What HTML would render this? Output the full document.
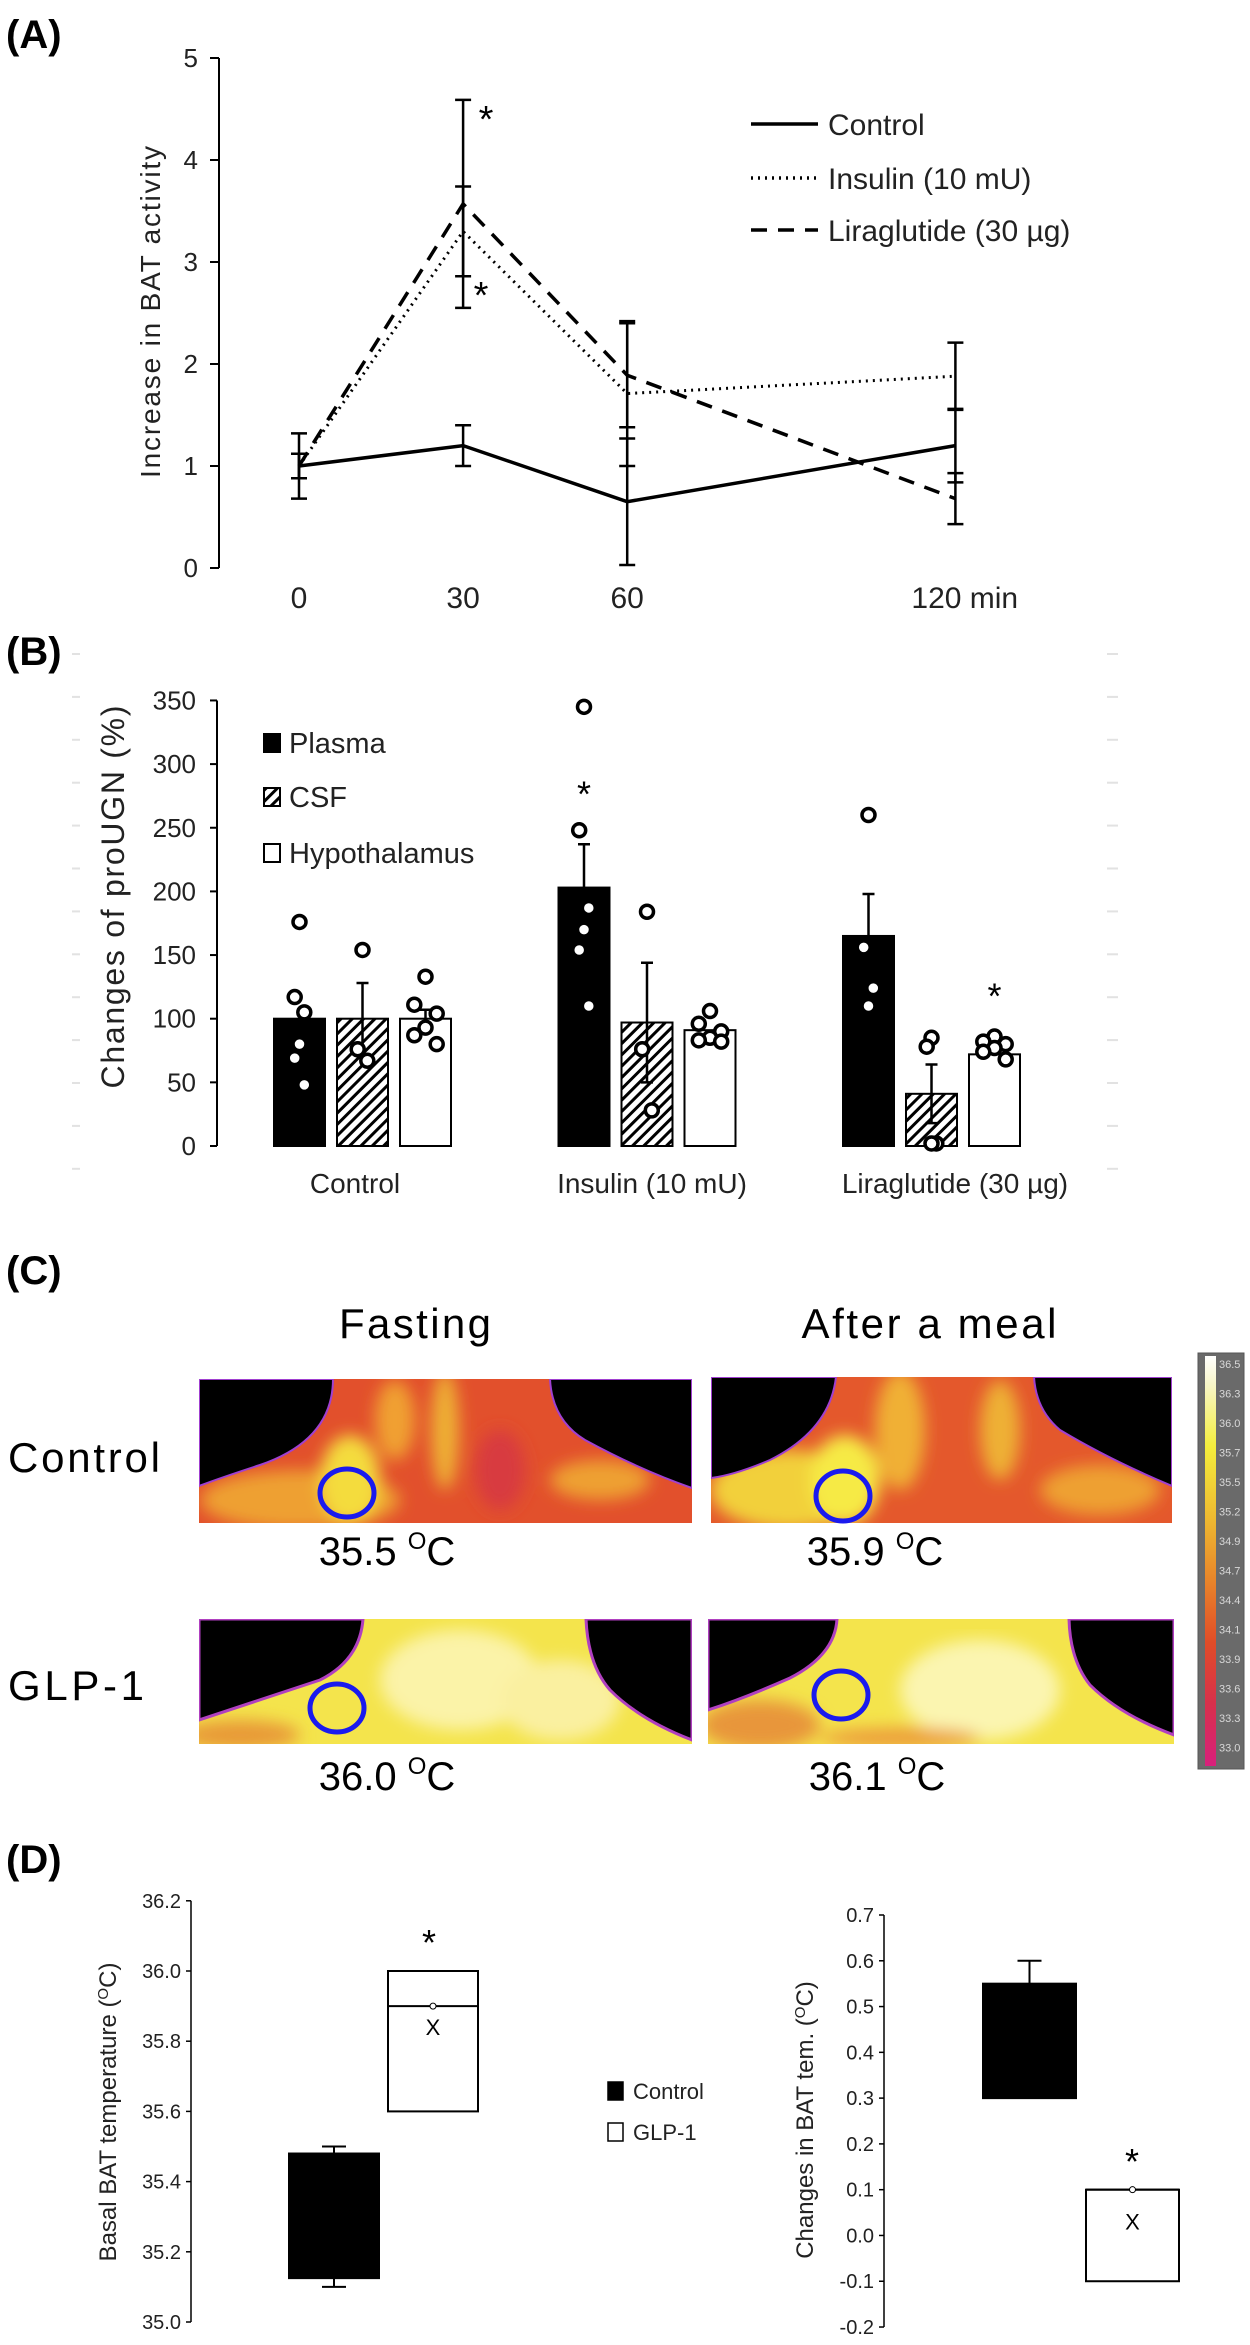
<!DOCTYPE html>
<html><head><meta charset="utf-8"><style>
html,body{margin:0;padding:0;background:#fff;}
svg{display:block;font-family:"Liberation Sans",Arial,sans-serif;}
</style></head><body>
<svg id="fig" width="1250" height="2345" viewBox="0 0 1250 2345" xmlns="http://www.w3.org/2000/svg">
<defs>
 <linearGradient id="cbar" x1="0" y1="0" x2="0" y2="1">
  <stop offset="0" stop-color="#ffffff"/><stop offset="0.07" stop-color="#f8f6c8"/>
  <stop offset="0.22" stop-color="#f4ee3c"/><stop offset="0.4" stop-color="#eeb830"/>
  <stop offset="0.55" stop-color="#e8842a"/><stop offset="0.7" stop-color="#e04c28"/>
  <stop offset="0.85" stop-color="#d8304c"/><stop offset="1" stop-color="#d8207c"/>
 </linearGradient>
 <filter id="blur8"><feGaussianBlur stdDeviation="8"/></filter>
 <clipPath id="c1"><rect x="199" y="1379" width="493" height="144"/></clipPath>
 <clipPath id="c2"><rect x="711" y="1377" width="461" height="146"/></clipPath>
 <clipPath id="c3"><rect x="199" y="1619" width="493" height="125"/></clipPath>
 <clipPath id="c4"><rect x="708" y="1619" width="466" height="125"/></clipPath>
 <pattern id="hatch" patternUnits="userSpaceOnUse" width="8" height="8" patternTransform="rotate(45)">
  <rect width="8" height="8" fill="#fff"/><rect width="3" height="8" fill="#000"/>
 </pattern>
</defs>

<text x="6" y="48" font-size="40" font-weight="bold">(A)</text>
<text x="6" y="665" font-size="40" font-weight="bold">(B)</text>
<text x="6" y="1284" font-size="40" font-weight="bold">(C)</text>
<text x="6" y="1873" font-size="40" font-weight="bold">(D)</text>

<g id="panelA"></g>
<g id="panelB"></g>

<g>
 <text x="415" y="1338" font-size="42" text-anchor="middle" textLength="152">Fasting</text>
 <text x="929" y="1338" font-size="42" text-anchor="middle" textLength="255">After a meal</text>
 <text x="8" y="1472" font-size="42" textLength="152">Control</text>
 <text x="8" y="1700" font-size="42" textLength="136">GLP-1</text>

 <g clip-path="url(#c1)">
  <rect x="199" y="1379" width="493" height="144" fill="#e2502c"/>
  <g filter="url(#blur8)">
   <ellipse cx="300" cy="1500" rx="100" ry="30" fill="#eea030"/>
   <ellipse cx="350" cy="1480" rx="30" ry="45" fill="#f4dc3c"/>
   <ellipse cx="445" cy="1430" rx="14" ry="60" fill="#eeb034"/>
   <ellipse cx="395" cy="1420" rx="20" ry="40" fill="#f0a030"/>
   <ellipse cx="600" cy="1480" rx="50" ry="20" fill="#eea030"/>
   <ellipse cx="500" cy="1470" rx="25" ry="40" fill="#d83a40"/>
  </g>
  <path d="M199 1379 H333 Q333 1440 260 1465 Q220 1478 199 1486 Z" fill="#000" stroke="#a040d0" stroke-width="2"/>
  <path d="M550 1379 H692 V1488 Q640 1470 585 1440 Q552 1420 550 1379 Z" fill="#000" stroke="#a040d0" stroke-width="2"/>
 </g>
 <g clip-path="url(#c2)">
  <rect x="711" y="1377" width="461" height="146" fill="#e4582c"/>
  <g filter="url(#blur8)">
   <ellipse cx="790" cy="1490" rx="80" ry="40" fill="#f2d03a"/>
   <ellipse cx="845" cy="1480" rx="35" ry="45" fill="#f6ea44"/>
   <ellipse cx="900" cy="1430" rx="25" ry="60" fill="#f0b034"/>
   <ellipse cx="1000" cy="1430" rx="20" ry="50" fill="#eeb034"/>
   <ellipse cx="1100" cy="1490" rx="60" ry="25" fill="#eea030"/>
  </g>
  <path d="M711 1377 H836 Q830 1430 770 1460 Q735 1475 711 1478 Z" fill="#000" stroke="#a040d0" stroke-width="2"/>
  <path d="M1034 1377 H1172 V1486 Q1110 1460 1060 1430 Q1036 1410 1034 1377 Z" fill="#000" stroke="#a040d0" stroke-width="2"/>
 </g>
 <g clip-path="url(#c3)">
  <rect x="199" y="1619" width="493" height="125" fill="#f4e44c"/>
  <g filter="url(#blur8)">
   <ellipse cx="460" cy="1680" rx="80" ry="50" fill="#fbf3a8"/>
   <ellipse cx="560" cy="1700" rx="60" ry="40" fill="#faf0a0"/>
   <ellipse cx="240" cy="1735" rx="60" ry="15" fill="#e89a38"/>
  </g>
  <path d="M199 1619 H363 Q360 1660 320 1680 Q260 1700 199 1720 Z" fill="#000" stroke="#b040c0" stroke-width="3"/>
  <path d="M586 1619 H692 V1740 Q640 1720 610 1690 Q588 1665 586 1619 Z" fill="#000" stroke="#b040c0" stroke-width="3"/>
 </g>
 <g clip-path="url(#c4)">
  <rect x="708" y="1619" width="466" height="125" fill="#f4e44c"/>
  <g filter="url(#blur8)">
   <ellipse cx="980" cy="1690" rx="80" ry="50" fill="#fbf5b0"/>
   <ellipse cx="760" cy="1725" rx="60" ry="25" fill="#e8963a"/>
   <ellipse cx="900" cy="1738" rx="80" ry="10" fill="#ec9c3a"/>
  </g>
  <path d="M708 1619 H837 Q835 1655 790 1678 Q745 1698 708 1710 Z" fill="#000" stroke="#b040c0" stroke-width="3"/>
  <path d="M1069 1619 H1174 V1735 Q1120 1715 1090 1685 Q1070 1660 1069 1619 Z" fill="#000" stroke="#b040c0" stroke-width="3"/>
 </g>
 <ellipse cx="347" cy="1493" rx="27" ry="24" fill="none" stroke="#1a1aee" stroke-width="5"/>
 <ellipse cx="843" cy="1496" rx="27" ry="25" fill="none" stroke="#1a1aee" stroke-width="5"/>
 <ellipse cx="337" cy="1708" rx="27" ry="24" fill="none" stroke="#1a1aee" stroke-width="5"/>
 <ellipse cx="841" cy="1695" rx="27" ry="24" fill="none" stroke="#1a1aee" stroke-width="5"/>
 <text x="387" y="1565" font-size="40" text-anchor="middle">35.5 <tspan font-size="24" dy="-16">O</tspan><tspan dy="16">C</tspan></text>
 <text x="875" y="1565" font-size="40" text-anchor="middle">35.9 <tspan font-size="24" dy="-16">O</tspan><tspan dy="16">C</tspan></text>
 <text x="387" y="1790" font-size="40" text-anchor="middle">36.0 <tspan font-size="24" dy="-16">O</tspan><tspan dy="16">C</tspan></text>
 <text x="877" y="1790" font-size="40" text-anchor="middle">36.1 <tspan font-size="24" dy="-16">O</tspan><tspan dy="16">C</tspan></text>
 <g>
  <rect x="1198" y="1353" width="46" height="416" fill="#6a6a6a" stroke="#555" stroke-width="1"/>
  <rect x="1205" y="1356" width="11" height="410" fill="url(#cbar)"/>
  <g id="cbarLabels" font-size="11" fill="#d8d8d8"></g>
 </g>
</g>

<g id="panelD"></g>

<script>
// ---------- Panel A data ----------
const aTimes = [0, 30, 60, 120];
const aControl = [1.0, 1.2, 0.65, 1.2];
const aControlErr = [0.32, 0.2, 0.62, 0.36];
const aInsulin = [1.0, 3.3, 1.71, 1.88];
const aInsulinErr = [0.12, 0.44, 0.71, 0.33];
const aLira = [1.0, 3.57, 1.89, 0.68];
const aLiraErr = [0.12, 1.02, 0.51, 0.25];
const aYTicks = [0, 1, 2, 3, 4, 5];
const aXLabels = ['0', '30', '60', '120 min'];

// ---------- Panel B data ----------
const bGroups = ['Control', 'Insulin (10 mU)', 'Liraglutide (30 \u00b5g)'];
const bPlasma = [100, 203, 165];
const bCSF = [100, 97, 41];
const bHypo = [100, 91, 72];
const bPlasmaErr = [0, 34, 33];
const bCSFErr = [28, 47, 23];
const bHypoErr = [7, 0, 0];
const bPlasmaPts = [[176, 117, 105, 80, 69, 48], [345, 248, 187, 170, 154, 110], [260, 156, 124, 110]];
const bCSFPts = [[154, 76, 67], [184, 76, 28], [85, 78, 2, 2]];
const bHypoPts = [[133, 111, 104, 93, 87, 80], [106, 96, 90, 85, 83, 82], [86, 82, 80, 77, 74, 68]];
const bYTicks = [0, 50, 100, 150, 200, 250, 300, 350];

// ---------- Panel D data ----------
const dGroups = ['Control', 'GLP-1'];
const dBasalQ1 = [35.125, 35.6];
const dBasalQ3 = [35.48, 36.0];
const dBasalMin = [35.1, null];
const dBasalMax = [35.5, null];
const dBasalMedian = [null, 35.9];
const dBasalMean = [null, 35.84];
const dChangeQ1 = [0.3, -0.1];
const dChangeQ3 = [0.55, 0.1];
const dChangeMax = [0.6, null];
const dChangeMedian = [null, 0.1];
const dChangeMean = [null, 0.03];
const dBasalTicks = [35.0, 35.2, 35.4, 35.6, 35.8, 36.0, 36.2];
const dChangeTicks = [-0.2, -0.1, 0.0, 0.1, 0.2, 0.3, 0.4, 0.5, 0.6, 0.7];
const cbarLabels = ['36.5','36.3','36.0','35.7','35.5','35.2','34.9','34.7','34.4','34.1','33.9','33.6','33.3','33.0'];

const NS = 'http://www.w3.org/2000/svg';
function mk(tag, attrs, parent) {
  const e = document.createElementNS(NS, tag);
  for (const k in attrs) e.setAttribute(k, attrs[k]);
  parent.appendChild(e);
  return e;
}

// ===== Panel A =====
(function () {
  const g = document.getElementById('panelA');
  const xA = t => 299 + t * 5.47;
  const yA = v => 568 - v * 102;
  let el = mk('line', {x1: 219, y1: yA(5), x2: 219, y2: yA(0), stroke: '#000', 'stroke-width': 2}, g);
  
  
  aYTicks.forEach(v => {
    let t = mk('line', {x1: 210, y1: yA(v), x2: 219, y2: yA(v), stroke: '#000', 'stroke-width': 2}, g);
    
    
    let l = mk('text', {x: 198, y: yA(v) + 9, 'font-size': 26, 'text-anchor': 'end', fill: '#222'}, g);
    l.textContent = v;
    
    
  });
  aXLabels.forEach((s, i) => {
    const last = i === aXLabels.length - 1;
    let l = mk('text', {x: last ? xA(aTimes[i]) - 44 : xA(aTimes[i]), y: 608, 'font-size': 30, 'text-anchor': last ? 'start' : 'middle', fill: '#222'}, g);
    l.textContent = s;
    
    
  });
  let yt = mk('text', {x: 0, y: 0, 'font-size': 28, 'text-anchor': 'middle', fill: '#222', transform: 'translate(160,312) rotate(-90)', textLength: 332}, g);
  yt.textContent = 'Increase in BAT activity';
  
  

  const series = [
    {name: 'control', vals: aControl, err: aControlErr, dash: null, w: 3.5},
    {name: 'insulin', vals: aInsulin, err: aInsulinErr, dash: '2 5', w: 3},
    {name: 'liraglutide', vals: aLira, err: aLiraErr, dash: '16 11', w: 3.5}
  ];
  series.forEach(s => {
    s.vals.forEach((v, i) => {
      const x = xA(aTimes[i]);
      let e = mk('path', {d: `M${x} ${yA(v + s.err[i])}V${yA(v - s.err[i])}M${x - 8} ${yA(v + s.err[i])}h16M${x - 8} ${yA(v - s.err[i])}h16`, stroke: '#000', 'stroke-width': 2.5, fill: 'none'}, g);
      
      
    });
  });
  series.forEach(s => {
    const pts = s.vals.map((v, i) => xA(aTimes[i]) + ',' + yA(v)).join(' ');
    let p = mk('polyline', {points: pts, fill: 'none', stroke: '#000', 'stroke-width': s.w}, g);
    if (s.dash) p.setAttribute('stroke-dasharray', s.dash);
    
    
  });
  let s1 = mk('text', {x: 486, y: 132, 'font-size': 38, 'text-anchor': 'middle'}, g);
  s1.textContent = '*';
  
  
  let s2 = mk('text', {x: 481, y: 308, 'font-size': 38, 'text-anchor': 'middle'}, g);
  s2.textContent = '*';
  
  
  const leg = [['Control', null, 124], ['Insulin (10 mU)', '2 5', 178], ['Liraglutide (30 \u00b5g)', '16 11', 230]];
  leg.forEach(L => {
    let ln = mk('line', {x1: 751, y1: L[2], x2: 818, y2: L[2], stroke: '#000', 'stroke-width': 3.5}, g);
    if (L[1]) ln.setAttribute('stroke-dasharray', L[1]);
    
    
    let t = mk('text', {x: 828, y: L[2] + 11, 'font-size': 30, fill: '#222'}, g);
    t.textContent = L[0];
    
    
  });
})();

// ===== Panel B =====
(function () {
  const g = document.getElementById('panelB');
  const yB = v => 1146 - v * 1.273;
  const gx = gi => 274 + gi * 284.5;
  for (let y = 654; y < 1175; y += 42.9) {
    let d1 = mk('line', {x1: 72, y1: y, x2: 80, y2: y, stroke: '#e2e2e2', 'stroke-width': 2}, g);
    
    
    let d2 = mk('line', {x1: 1107, y1: y, x2: 1118, y2: y, stroke: '#e2e2e2', 'stroke-width': 2}, g);
    
    
  }
  let ax = mk('line', {x1: 217, y1: yB(350), x2: 217, y2: yB(0), stroke: '#000', 'stroke-width': 2}, g);
  
  
  bYTicks.forEach(v => {
    let t = mk('line', {x1: 210, y1: yB(v), x2: 217, y2: yB(v), stroke: '#000', 'stroke-width': 2}, g);
    
    
    let l = mk('text', {x: 196, y: yB(v) + 9, 'font-size': 26, 'text-anchor': 'end', fill: '#222'}, g);
    l.textContent = v;
    
    
  });
  let yt = mk('text', {x: 0, y: 0, 'font-size': 32, 'text-anchor': 'middle', fill: '#222', transform: 'translate(124,897) rotate(-90)', textLength: 383}, g);
  yt.textContent = 'Changes of  proUGN (%)';
  
  

  const series = [
    {name: 'plasma', vals: bPlasma, err: bPlasmaErr, pts: bPlasmaPts, fill: '#000', down: false},
    {name: 'csf', vals: bCSF, err: bCSFErr, pts: bCSFPts, fill: 'url(#hatch)', down: true},
    {name: 'hypothalamus', vals: bHypo, err: bHypoErr, pts: bHypoPts, fill: '#fff', down: false}
  ];
  bGroups.forEach((grp, gi) => {
    series.forEach((s, si) => {
      const x = gx(gi) + si * 63;
      const v = s.vals[gi];
      let r = mk('rect', {x: x, y: yB(v), width: 51, height: yB(0) - yB(v), fill: s.fill, stroke: '#000', 'stroke-width': 2}, g);
      
      
      const e = s.err[gi];
      if (e > 0) {
        const cx = x + 25.5;
        const lo = s.down ? v - e : v;
        let eb = mk('path', {d: `M${cx} ${yB(v + e)}V${yB(lo)}M${cx - 6} ${yB(v + e)}h12` + (s.down ? `M${cx - 6} ${yB(lo)}h12` : ''), stroke: '#000', 'stroke-width': 2.5, fill: 'none'}, g);
        
        
      }
    });
  });
  bGroups.forEach((grp, gi) => {
    series.forEach((s, si) => {
      const cx = gx(gi) + si * 63 + 25.5;
      s.pts[gi].forEach((p, pi) => {
        const off = (pi % 3 === 0 ? 0 : (pi % 3 === 1 ? -8 : 8)) * (si === 2 ? 1.4 : 0.6);
        let c = mk('circle', {cx: cx + off, cy: yB(p), r: 6.5, fill: '#fff', stroke: '#000', 'stroke-width': 3.5}, g);
        
        
      });
    });
    let lbl = mk('text', {x: [355, 652, 955][gi], y: 1193, 'font-size': 28, 'text-anchor': 'middle', fill: '#222'}, g);
    lbl.textContent = grp;
    
    
  });
  let st1 = mk('text', {x: gx(1) + 25.5, y: yB(281) + 18, 'font-size': 36, 'text-anchor': 'middle'}, g);
  st1.textContent = '*';
  
  
  let st2 = mk('text', {x: gx(2) + 126 + 25.5, y: yB(122) + 18, 'font-size': 36, 'text-anchor': 'middle'}, g);
  st2.textContent = '*';
  
  
  const leg = [['Plasma', '#000', 743], ['CSF', 'url(#hatch)', 797], ['Hypothalamus', '#fff', 853]];
  leg.forEach(L => {
    let sw = mk('rect', {x: 264, y: L[2] - 9, width: 16, height: 18, fill: L[1], stroke: '#000', 'stroke-width': 2}, g);
    
    
    let t = mk('text', {x: 289, y: L[2] + 10, 'font-size': 29, fill: '#222'}, g);
    t.textContent = L[0];
    
    
  });
})();

// ===== Colorbar labels =====
(function () {
  const g = document.getElementById('cbarLabels');
  cbarLabels.forEach((s, i) => {
    let t = mk('text', {x: 1219, y: 1368 + i * 29.5, 'font-size': 11}, g);
    t.textContent = s;
    
    
  });
})();

// ===== Panel D =====
(function () {
  const g = document.getElementById('panelD');
  function boxChart(o) {
    const y = o.y;
    let ax = mk('line', {x1: o.axX, y1: y(o.ticks[o.ticks.length - 1]), x2: o.axX, y2: y(o.ticks[0]), stroke: '#000', 'stroke-width': 1.5}, g);
    
    
    o.ticks.forEach(v => {
      let t = mk('line', {x1: o.axX - 5, y1: y(v), x2: o.axX, y2: y(v), stroke: '#000', 'stroke-width': 1.5}, g);
      
      
      let l = mk('text', {x: o.axX - 10, y: y(v) + 7, 'font-size': 20, 'text-anchor': 'end', fill: '#222'}, g);
      l.textContent = v.toFixed(1);
      
      
    });
    let yt = mk('text', {x: 0, y: 0, 'font-size': 24, 'text-anchor': 'middle', fill: '#222', transform: `translate(${o.titleX},${o.titleY}) rotate(-90)`}, g);
    
    
    let t1 = mk('tspan', {}, yt);
    t1.textContent = o.title + '  (';
    let t2 = mk('tspan', {'font-size': 15, dy: -8}, yt);
    t2.textContent = 'O';
    let t3 = mk('tspan', {dy: 8}, yt);
    t3.textContent = 'C)';
    dGroups.forEach((grp, i) => {
      const x0 = o.bx[i], w = o.bw;
      const cx = x0 + w / 2;
      if (o.max[i] !== null) {
        let wk = mk('path', {d: `M${cx} ${y(o.max[i])}V${y(o.q3[i])}M${cx - 12} ${y(o.max[i])}h24`, stroke: '#000', 'stroke-width': 2, fill: 'none'}, g);
        
        
      }
      if (o.min && o.min[i] !== null) {
        let wk = mk('path', {d: `M${cx} ${y(o.min[i])}V${y(o.q1[i])}M${cx - 12} ${y(o.min[i])}h24`, stroke: '#000', 'stroke-width': 2, fill: 'none'}, g);
        
        
      }
      let r = mk('rect', {x: x0, y: y(o.q3[i]), width: w, height: y(o.q1[i]) - y(o.q3[i]), fill: i === 0 ? '#000' : '#fff', stroke: '#000', 'stroke-width': 2}, g);
      
      
      if (o.median[i] !== null) {
        let m = mk('line', {x1: x0, y1: y(o.median[i]), x2: x0 + w, y2: y(o.median[i]), stroke: '#000', 'stroke-width': 2}, g);
        
        
        let c = mk('circle', {cx: cx, cy: y(o.median[i]), r: 3, fill: '#fff', stroke: '#000', 'stroke-width': 1}, g);
        
        
      }
      if (o.mean[i] !== null) {
        let mx = mk('text', {x: cx, y: y(o.mean[i]) + 8, 'font-size': 22, 'text-anchor': 'middle'}, g);
        mx.textContent = 'X';
        
        
      }
    });
    let st = mk('text', {x: o.starX, y: o.starY, 'font-size': 36, 'text-anchor': 'middle'}, g);
    st.textContent = '*';
    
    
  }
  boxChart({id: 'd-basal', y: v => 2322 - (v - 35.0) * 351, axX: 191, ticks: dBasalTicks,
    title: 'Basal BAT temperature', titleX: 116, titleY: 2112,
    bx: [289, 388], bw: 90, q1: dBasalQ1, q3: dBasalQ3, min: dBasalMin, max: dBasalMax, median: dBasalMedian, mean: dBasalMean,
    starX: 429, starY: 1955});
  boxChart({id: 'd-change', y: v => 1915 + (0.7 - v) * 457.8, axX: 884, ticks: dChangeTicks,
    title: 'Changes in BAT tem.', titleX: 813, titleY: 2120,
    bx: [983, 1086], bw: 93, q1: dChangeQ1, q3: dChangeQ3, min: null, max: dChangeMax, median: dChangeMedian, mean: dChangeMean,
    starX: 1132, starY: 2174});
  const leg = [['Control', '#000', 2091], ['GLP-1', '#fff', 2132]];
  leg.forEach(L => {
    let sw = mk('rect', {x: 608, y: L[2] - 9, width: 15, height: 18, fill: L[1], stroke: '#000', 'stroke-width': 1.5}, g);
    
    
    let t = mk('text', {x: 633, y: L[2] + 8, 'font-size': 22, fill: '#222'}, g);
    t.textContent = L[0];
    
    
  });
})();
</script>
</body></html>
